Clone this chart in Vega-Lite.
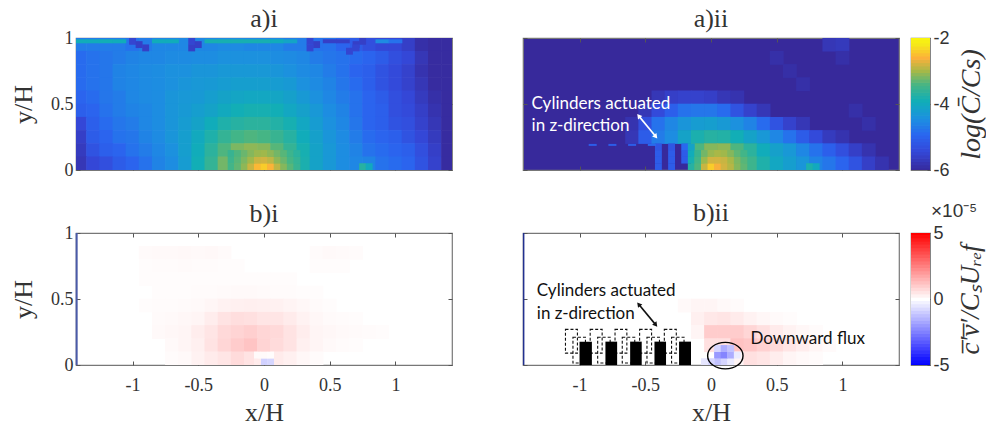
{"$schema":"https://vega.github.io/schema/vega-lite/v6.json","background":"white","padding":{"left":9,"top":4,"right":0,"bottom":0},"autosize":{"type":"pad"},"config":{"view":{"stroke":"#777","strokeWidth":1.2},"font":"Liberation Serif","axis":{"grid":false,"domain":false,"tickColor":"#555","tickSize":-4,"labelFont":"Liberation Serif","labelFontSize":18,"labelColor":"#333","labelPadding":7,"titleFont":"Liberation Serif","titleFontSize":26,"titleFontWeight":"normal","titleColor":"#333","zindex":1},"title":{"font":"Liberation Serif","fontSize":26,"fontWeight":"normal","color":"#333","offset":6}},
"datasets":{
"ai":[
{"x":-1.4,"y":0.95,"v":-4.68},{"x":-1.3,"y":0.95,"v":-4.68},{"x":-1.2,"y":0.95,"v":-4.68},{"x":-1.1,"y":0.95,"v":-4.68},{"x":-1,"y":0.95,"v":-4.8},{"x":-0.9,"y":0.95,"v":-4.68},{"x":-0.8,"y":0.95,"v":-4.55},{"x":-0.7,"y":0.95,"v":-4.55},{"x":-0.6,"y":0.95,"v":-4.55},{"x":-0.5,"y":0.95,"v":-4.55},{"x":-0.4,"y":0.95,"v":-4.55},{"x":-0.3,"y":0.95,"v":-4.5},{"x":-0.2,"y":0.95,"v":-4.5},{"x":-0.1,"y":0.95,"v":-4.55},{"x":0,"y":0.95,"v":-4.55},{"x":0.1,"y":0.95,"v":-4.55},{"x":0.2,"y":0.95,"v":-4.68},{"x":0.3,"y":0.95,"v":-4.68},{"x":0.4,"y":0.95,"v":-4.8},{"x":0.5,"y":0.95,"v":-4.8},{"x":0.6,"y":0.95,"v":-4.98},{"x":0.7,"y":0.95,"v":-5.1},{"x":0.8,"y":0.95,"v":-5.32},{"x":0.9,"y":0.95,"v":-5.45},{"x":1,"y":0.95,"v":-5.45},{"x":1.1,"y":0.95,"v":-5.6},{"x":1.2,"y":0.95,"v":-5.88},{"x":1.3,"y":0.95,"v":-5.95},{"x":1.4,"y":0.95,"v":-5.95},
{"x":-1.4,"y":0.85,"v":-4.88},{"x":-1.3,"y":0.85,"v":-4.8},{"x":-1.2,"y":0.85,"v":-4.75},{"x":-1.1,"y":0.85,"v":-4.68},{"x":-1,"y":0.85,"v":-4.6},{"x":-0.9,"y":0.85,"v":-4.55},{"x":-0.8,"y":0.85,"v":-4.55},{"x":-0.7,"y":0.85,"v":-4.5},{"x":-0.6,"y":0.85,"v":-4.5},{"x":-0.5,"y":0.85,"v":-4.47},{"x":-0.4,"y":0.85,"v":-4.47},{"x":-0.3,"y":0.85,"v":-4.42},{"x":-0.2,"y":0.85,"v":-4.42},{"x":-0.1,"y":0.85,"v":-4.42},{"x":0,"y":0.85,"v":-4.42},{"x":0.1,"y":0.85,"v":-4.47},{"x":0.2,"y":0.85,"v":-4.5},{"x":0.3,"y":0.85,"v":-4.55},{"x":0.4,"y":0.85,"v":-4.68},{"x":0.5,"y":0.85,"v":-4.75},{"x":0.6,"y":0.85,"v":-4.8},{"x":0.7,"y":0.85,"v":-4.88},{"x":0.8,"y":0.85,"v":-4.98},{"x":0.9,"y":0.85,"v":-5.1},{"x":1,"y":0.85,"v":-5.32},{"x":1.1,"y":0.85,"v":-5.45},{"x":1.2,"y":0.85,"v":-5.75},{"x":1.3,"y":0.85,"v":-5.95},{"x":1.4,"y":0.85,"v":-5.95},
{"x":-1.4,"y":0.75,"v":-4.88},{"x":-1.3,"y":0.75,"v":-4.8},{"x":-1.2,"y":0.75,"v":-4.75},{"x":-1.1,"y":0.75,"v":-4.6},{"x":-1,"y":0.75,"v":-4.55},{"x":-0.9,"y":0.75,"v":-4.5},{"x":-0.8,"y":0.75,"v":-4.47},{"x":-0.7,"y":0.75,"v":-4.42},{"x":-0.6,"y":0.75,"v":-4.42},{"x":-0.5,"y":0.75,"v":-4.35},{"x":-0.4,"y":0.75,"v":-4.35},{"x":-0.3,"y":0.75,"v":-4.31},{"x":-0.2,"y":0.75,"v":-4.31},{"x":-0.1,"y":0.75,"v":-4.31},{"x":0,"y":0.75,"v":-4.31},{"x":0.1,"y":0.75,"v":-4.35},{"x":0.2,"y":0.75,"v":-4.42},{"x":0.3,"y":0.75,"v":-4.5},{"x":0.4,"y":0.75,"v":-4.55},{"x":0.5,"y":0.75,"v":-4.68},{"x":0.6,"y":0.75,"v":-4.8},{"x":0.7,"y":0.75,"v":-4.98},{"x":0.8,"y":0.75,"v":-5.05},{"x":0.9,"y":0.75,"v":-5.25},{"x":1,"y":0.75,"v":-5.4},{"x":1.1,"y":0.75,"v":-5.55},{"x":1.2,"y":0.75,"v":-5.82},{"x":1.3,"y":0.75,"v":-5.95},{"x":1.4,"y":0.75,"v":-5.95},
{"x":-1.4,"y":0.65,"v":-4.88},{"x":-1.3,"y":0.65,"v":-4.8},{"x":-1.2,"y":0.65,"v":-4.75},{"x":-1.1,"y":0.65,"v":-4.6},{"x":-1,"y":0.65,"v":-4.55},{"x":-0.9,"y":0.65,"v":-4.5},{"x":-0.8,"y":0.65,"v":-4.47},{"x":-0.7,"y":0.65,"v":-4.42},{"x":-0.6,"y":0.65,"v":-4.35},{"x":-0.5,"y":0.65,"v":-4.31},{"x":-0.4,"y":0.65,"v":-4.28},{"x":-0.3,"y":0.65,"v":-4.24},{"x":-0.2,"y":0.65,"v":-4.2},{"x":-0.1,"y":0.65,"v":-4.2},{"x":0,"y":0.65,"v":-4.2},{"x":0.1,"y":0.65,"v":-4.24},{"x":0.2,"y":0.65,"v":-4.28},{"x":0.3,"y":0.65,"v":-4.42},{"x":0.4,"y":0.65,"v":-4.5},{"x":0.5,"y":0.65,"v":-4.6},{"x":0.6,"y":0.65,"v":-4.75},{"x":0.7,"y":0.65,"v":-4.88},{"x":0.8,"y":0.65,"v":-5.05},{"x":0.9,"y":0.65,"v":-5.25},{"x":1,"y":0.65,"v":-5.4},{"x":1.1,"y":0.65,"v":-5.55},{"x":1.2,"y":0.65,"v":-5.75},{"x":1.3,"y":0.65,"v":-5.95},{"x":1.4,"y":0.65,"v":-5.95},
{"x":-1.4,"y":0.55,"v":-4.98},{"x":-1.3,"y":0.55,"v":-4.88},{"x":-1.2,"y":0.55,"v":-4.75},{"x":-1.1,"y":0.55,"v":-4.68},{"x":-1,"y":0.55,"v":-4.55},{"x":-0.9,"y":0.55,"v":-4.5},{"x":-0.8,"y":0.55,"v":-4.47},{"x":-0.7,"y":0.55,"v":-4.35},{"x":-0.6,"y":0.55,"v":-4.31},{"x":-0.5,"y":0.55,"v":-4.28},{"x":-0.4,"y":0.55,"v":-4.2},{"x":-0.3,"y":0.55,"v":-4.12},{"x":-0.2,"y":0.55,"v":-4.08},{"x":-0.1,"y":0.55,"v":-4.05},{"x":0,"y":0.55,"v":-4.05},{"x":0.1,"y":0.55,"v":-4.08},{"x":0.2,"y":0.55,"v":-4.16},{"x":0.3,"y":0.55,"v":-4.28},{"x":0.4,"y":0.55,"v":-4.42},{"x":0.5,"y":0.55,"v":-4.55},{"x":0.6,"y":0.55,"v":-4.68},{"x":0.7,"y":0.55,"v":-4.8},{"x":0.8,"y":0.55,"v":-4.98},{"x":0.9,"y":0.55,"v":-5.1},{"x":1,"y":0.55,"v":-5.32},{"x":1.1,"y":0.55,"v":-5.45},{"x":1.2,"y":0.55,"v":-5.68},{"x":1.3,"y":0.55,"v":-5.88},{"x":1.4,"y":0.55,"v":-5.95},
{"x":-1.4,"y":0.45,"v":-5.05},{"x":-1.3,"y":0.45,"v":-4.98},{"x":-1.2,"y":0.45,"v":-4.8},{"x":-1.1,"y":0.45,"v":-4.68},{"x":-1,"y":0.45,"v":-4.6},{"x":-0.9,"y":0.45,"v":-4.55},{"x":-0.8,"y":0.45,"v":-4.47},{"x":-0.7,"y":0.45,"v":-4.35},{"x":-0.6,"y":0.45,"v":-4.28},{"x":-0.5,"y":0.45,"v":-4.2},{"x":-0.4,"y":0.45,"v":-4.12},{"x":-0.3,"y":0.45,"v":-4},{"x":-0.2,"y":0.45,"v":-3.9},{"x":-0.1,"y":0.45,"v":-3.85},{"x":0,"y":0.45,"v":-3.85},{"x":0.1,"y":0.45,"v":-3.9},{"x":0.2,"y":0.45,"v":-4.05},{"x":0.3,"y":0.45,"v":-4.16},{"x":0.4,"y":0.45,"v":-4.31},{"x":0.5,"y":0.45,"v":-4.47},{"x":0.6,"y":0.45,"v":-4.6},{"x":0.7,"y":0.45,"v":-4.8},{"x":0.8,"y":0.45,"v":-4.98},{"x":0.9,"y":0.45,"v":-5.05},{"x":1,"y":0.45,"v":-5.32},{"x":1.1,"y":0.45,"v":-5.4},{"x":1.2,"y":0.45,"v":-5.6},{"x":1.3,"y":0.45,"v":-5.82},{"x":1.4,"y":0.45,"v":-5.95},
{"x":-1.4,"y":0.35,"v":-5.45},{"x":-1.3,"y":0.35,"v":-5.05},{"x":-1.2,"y":0.35,"v":-4.88},{"x":-1.1,"y":0.35,"v":-4.75},{"x":-1,"y":0.35,"v":-4.68},{"x":-0.9,"y":0.35,"v":-4.55},{"x":-0.8,"y":0.35,"v":-4.47},{"x":-0.7,"y":0.35,"v":-4.35},{"x":-0.6,"y":0.35,"v":-4.24},{"x":-0.5,"y":0.35,"v":-4.12},{"x":-0.4,"y":0.35,"v":-3.95},{"x":-0.3,"y":0.35,"v":-3.78},{"x":-0.2,"y":0.35,"v":-3.7},{"x":-0.1,"y":0.35,"v":-3.66},{"x":0,"y":0.35,"v":-3.66},{"x":0.1,"y":0.35,"v":-3.74},{"x":0.2,"y":0.35,"v":-3.85},{"x":0.3,"y":0.35,"v":-4.05},{"x":0.4,"y":0.35,"v":-4.24},{"x":0.5,"y":0.35,"v":-4.42},{"x":0.6,"y":0.35,"v":-4.55},{"x":0.7,"y":0.35,"v":-4.75},{"x":0.8,"y":0.35,"v":-4.98},{"x":0.9,"y":0.35,"v":-5.05},{"x":1,"y":0.35,"v":-5.25},{"x":1.1,"y":0.35,"v":-5.32},{"x":1.2,"y":0.35,"v":-5.55},{"x":1.3,"y":0.35,"v":-5.75},{"x":1.4,"y":0.35,"v":-5.95},
{"x":-1.4,"y":0.25,"v":-5.6},{"x":-1.3,"y":0.25,"v":-5.1},{"x":-1.2,"y":0.25,"v":-4.98},{"x":-1.1,"y":0.25,"v":-4.8},{"x":-1,"y":0.25,"v":-4.75},{"x":-0.9,"y":0.25,"v":-4.6},{"x":-0.8,"y":0.25,"v":-4.5},{"x":-0.7,"y":0.25,"v":-4.35},{"x":-0.6,"y":0.25,"v":-4.2},{"x":-0.5,"y":0.25,"v":-4},{"x":-0.4,"y":0.25,"v":-3.78},{"x":-0.3,"y":0.25,"v":-3.58},{"x":-0.2,"y":0.25,"v":-3.45},{"x":-0.1,"y":0.25,"v":-3.38},{"x":0,"y":0.25,"v":-3.42},{"x":0.1,"y":0.25,"v":-3.54},{"x":0.2,"y":0.25,"v":-3.7},{"x":0.3,"y":0.25,"v":-3.95},{"x":0.4,"y":0.25,"v":-4.16},{"x":0.5,"y":0.25,"v":-4.35},{"x":0.6,"y":0.25,"v":-4.5},{"x":0.7,"y":0.25,"v":-4.68},{"x":0.8,"y":0.25,"v":-4.88},{"x":0.9,"y":0.25,"v":-4.98},{"x":1,"y":0.25,"v":-5.05},{"x":1.1,"y":0.25,"v":-5.25},{"x":1.2,"y":0.25,"v":-5.45},{"x":1.3,"y":0.25,"v":-5.68},{"x":1.4,"y":0.25,"v":-5.95},
{"x":-1.4,"y":0.15,"v":-5.68},{"x":-1.3,"y":0.15,"v":-5.25},{"x":-1.2,"y":0.15,"v":-5.05},{"x":-1.1,"y":0.15,"v":-4.98},{"x":-1,"y":0.15,"v":-4.8},{"x":-0.9,"y":0.15,"v":-4.68},{"x":-0.8,"y":0.15,"v":-4.55},{"x":-0.7,"y":0.15,"v":-4.42},{"x":-0.6,"y":0.15,"v":-4.2},{"x":-0.5,"y":0.15,"v":-3.95},{"x":-0.4,"y":0.15,"v":-3.66},{"x":-0.3,"y":0.15,"v":-3.38},{"x":-0.2,"y":0.15,"v":-3.18},{"x":-0.1,"y":0.15,"v":-3.1},{"x":0,"y":0.15,"v":-3.14},{"x":0.1,"y":0.15,"v":-3.34},{"x":0.2,"y":0.15,"v":-3.58},{"x":0.3,"y":0.15,"v":-3.85},{"x":0.4,"y":0.15,"v":-4.12},{"x":0.5,"y":0.15,"v":-4.31},{"x":0.6,"y":0.15,"v":-4.47},{"x":0.7,"y":0.15,"v":-4.6},{"x":0.8,"y":0.15,"v":-4.8},{"x":0.9,"y":0.15,"v":-4.88},{"x":1,"y":0.15,"v":-4.98},{"x":1.1,"y":0.15,"v":-5.05},{"x":1.2,"y":0.15,"v":-5.32},{"x":1.3,"y":0.15,"v":-5.6},{"x":1.4,"y":0.15,"v":-5.95},
{"x":-1.4,"y":0.05,"v":-5.75},{"x":-1.3,"y":0.05,"v":-5.45},{"x":-1.2,"y":0.05,"v":-5.32},{"x":-1.1,"y":0.05,"v":-5.1},{"x":-1,"y":0.05,"v":-4.98},{"x":-0.9,"y":0.05,"v":-4.8},{"x":-0.8,"y":0.05,"v":-4.6},{"x":-0.7,"y":0.05,"v":-4.47},{"x":-0.6,"y":0.05,"v":-4.24},{"x":-0.5,"y":0.05,"v":-3.9},{"x":-0.4,"y":0.05,"v":-3.58},{"x":-0.3,"y":0.05,"v":-3.22},{"x":-0.2,"y":0.05,"v":-3.05},{"x":-0.1,"y":0.05,"v":-2.88},{"x":0,"y":0.05,"v":-2.8},{"x":0.1,"y":0.05,"v":-3.05},{"x":0.2,"y":0.05,"v":-3.45},{"x":0.3,"y":0.05,"v":-3.82},{"x":0.4,"y":0.05,"v":-4.12},{"x":0.5,"y":0.05,"v":-4.31},{"x":0.6,"y":0.05,"v":-4.47},{"x":0.7,"y":0.05,"v":-4.55},{"x":0.8,"y":0.05,"v":-4.6},{"x":0.9,"y":0.05,"v":-4.8},{"x":1,"y":0.05,"v":-4.88},{"x":1.1,"y":0.05,"v":-4.98},{"x":1.2,"y":0.05,"v":-5.25},{"x":1.3,"y":0.05,"v":-5.55},{"x":1.4,"y":0.05,"v":-5.95}],
"aif":[
{"x":-0.25,"y":0.025,"v":-3.45},{"x":-0.2,"y":0.025,"v":-3.3},{"x":-0.15,"y":0.025,"v":-3.1},{"x":-0.1,"y":0.025,"v":-2.84},{"x":-0.05,"y":0.025,"v":-2.54},{"x":0,"y":0.025,"v":-2.4},{"x":0.05,"y":0.025,"v":-2.58},{"x":0.1,"y":0.025,"v":-2.88},{"x":0.15,"y":0.025,"v":-3.14},{"x":0.2,"y":0.025,"v":-3.34},{"x":0.25,"y":0.025,"v":-3.54},
{"x":-0.25,"y":0.075,"v":-3.5},{"x":-0.2,"y":0.075,"v":-3.34},{"x":-0.15,"y":0.075,"v":-3.18},{"x":-0.1,"y":0.075,"v":-3.02},{"x":-0.05,"y":0.075,"v":-2.84},{"x":0,"y":0.075,"v":-2.8},{"x":0.05,"y":0.075,"v":-2.88},{"x":0.1,"y":0.075,"v":-3.1},{"x":0.15,"y":0.075,"v":-3.26},{"x":0.2,"y":0.075,"v":-3.42},{"x":0.25,"y":0.075,"v":-3.58},
{"x":-0.25,"y":0.125,"v":-3.54},{"x":-0.2,"y":0.125,"v":-3.38},{"x":-0.15,"y":0.125,"v":-3.26},{"x":-0.1,"y":0.125,"v":-3.14},{"x":-0.05,"y":0.125,"v":-3.05},{"x":0,"y":0.125,"v":-3.02},{"x":0.05,"y":0.125,"v":-3.1},{"x":0.1,"y":0.125,"v":-3.22},{"x":0.15,"y":0.125,"v":-3.34},{"x":0.2,"y":0.125,"v":-3.5},{"x":0.25,"y":0.125,"v":-3.66},
{"x":0.75,"y":0.025,"v":-3.7},{"x":0.8,"y":0.025,"v":-4},
{"x":-1,"y":0.975,"v":-5.5},{"x":-0.95,"y":0.95,"v":-5.6},{"x":-0.9,"y":0.925,"v":-5.6},{"x":-0.55,"y":0.975,"v":-5.5},{"x":-0.55,"y":0.925,"v":-5.6},{"x":-0.5,"y":0.95,"v":-5.6},{"x":0.35,"y":0.975,"v":-5.5},{"x":0.4,"y":0.95,"v":-5.6},{"x":0.35,"y":0.925,"v":-5.5},{"x":0.75,"y":0.975,"v":-5.6},{"x":0.7,"y":0.95,"v":-5.6},{"x":0.7,"y":0.925,"v":-5.5},{"x":0.65,"y":0.9,"v":-5.5}],
"aib":[{"x":-1.4,"y":0.975,"v":-3.95},{"x":-1.3,"y":0.975,"v":-3.95},{"x":-1.2,"y":0.975,"v":-3.9},{"x":-1.1,"y":0.975,"v":-3.95},{"x":-0.8,"y":0.975,"v":-3.95},{"x":-0.7,"y":0.975,"v":-3.95},{"x":-0.4,"y":0.975,"v":-3.85},{"x":-0.3,"y":0.975,"v":-3.85},{"x":-0.2,"y":0.975,"v":-3.85},{"x":-0.1,"y":0.975,"v":-3.85},{"x":0,"y":0.975,"v":-3.85},{"x":0.1,"y":0.975,"v":-3.95},{"x":0.2,"y":0.975,"v":-4.1},{"x":0.5,"y":0.975,"v":-5.6},{"x":0.6,"y":0.975,"v":-5.6},{"x":0.9,"y":0.975,"v":-4.5},{"x":1,"y":0.975,"v":-4.8}],
"aii":[
{"x":-0.4,"y":0.55,"v":-5.75},{"x":-0.3,"y":0.55,"v":-5.6},{"x":-0.2,"y":0.55,"v":-5.55},{"x":-0.1,"y":0.55,"v":-5.55},{"x":0,"y":0.55,"v":-5.6},{"x":0.1,"y":0.55,"v":-5.75},{"x":0.2,"y":0.55,"v":-5.82},
{"x":-0.5,"y":0.45,"v":-5.75},{"x":-0.4,"y":0.45,"v":-5.4},{"x":-0.3,"y":0.45,"v":-5.05},{"x":-0.2,"y":0.45,"v":-4.8},{"x":-0.1,"y":0.45,"v":-4.75},{"x":0,"y":0.45,"v":-4.75},{"x":0.1,"y":0.45,"v":-4.88},{"x":0.2,"y":0.45,"v":-5.25},{"x":0.3,"y":0.45,"v":-5.55},{"x":0.4,"y":0.45,"v":-5.75},
{"x":-0.6,"y":0.35,"v":-5.82},{"x":-0.5,"y":0.35,"v":-5.32},{"x":-0.4,"y":0.35,"v":-4.8},{"x":-0.3,"y":0.35,"v":-4.55},{"x":-0.2,"y":0.35,"v":-4.35},{"x":-0.1,"y":0.35,"v":-4.24},{"x":0,"y":0.35,"v":-4.2},{"x":0.1,"y":0.35,"v":-4.28},{"x":0.2,"y":0.35,"v":-4.42},{"x":0.3,"y":0.35,"v":-4.6},{"x":0.4,"y":0.35,"v":-4.88},{"x":0.5,"y":0.35,"v":-5.25},{"x":0.6,"y":0.35,"v":-5.55},{"x":0.7,"y":0.35,"v":-5.75},
{"x":-0.6,"y":0.25,"v":-5.75},{"x":-0.5,"y":0.25,"v":-5.1},{"x":-0.4,"y":0.25,"v":-4.68},{"x":-0.3,"y":0.25,"v":-4.47},{"x":-0.2,"y":0.25,"v":-4.12},{"x":-0.1,"y":0.25,"v":-3.82},{"x":0,"y":0.25,"v":-3.7},{"x":0.1,"y":0.25,"v":-3.74},{"x":0.2,"y":0.25,"v":-3.9},{"x":0.3,"y":0.25,"v":-4.12},{"x":0.4,"y":0.25,"v":-4.31},{"x":0.5,"y":0.25,"v":-4.55},{"x":0.6,"y":0.25,"v":-4.8},{"x":0.7,"y":0.25,"v":-5.1},{"x":0.8,"y":0.25,"v":-5.4},{"x":0.9,"y":0.25,"v":-5.68},{"x":1,"y":0.25,"v":-5.82},
{"x":-0.1,"y":0.15,"v":-3.38},{"x":0,"y":0.15,"v":-3.14},{"x":0.1,"y":0.15,"v":-3.1},{"x":0.2,"y":0.15,"v":-3.38},{"x":0.3,"y":0.15,"v":-3.66},{"x":0.4,"y":0.15,"v":-3.95},{"x":0.5,"y":0.15,"v":-4.16},{"x":0.6,"y":0.15,"v":-4.31},{"x":0.7,"y":0.15,"v":-4.55},{"x":0.8,"y":0.15,"v":-4.8},{"x":0.9,"y":0.15,"v":-5.05},{"x":1,"y":0.15,"v":-5.32},{"x":1.1,"y":0.15,"v":-5.6},{"x":1.2,"y":0.15,"v":-5.82},
{"x":-0.1,"y":0.05,"v":-3.3},{"x":0,"y":0.05,"v":-2.8},{"x":0.1,"y":0.05,"v":-2.8},{"x":0.2,"y":0.05,"v":-3.14},{"x":0.3,"y":0.05,"v":-3.5},{"x":0.4,"y":0.05,"v":-3.78},{"x":0.5,"y":0.05,"v":-4.05},{"x":0.6,"y":0.05,"v":-4.2},{"x":0.7,"y":0.05,"v":-4.35},{"x":0.8,"y":0.05,"v":-4.6},{"x":0.9,"y":0.05,"v":-4.75},{"x":1,"y":0.05,"v":-4.98},{"x":1.1,"y":0.05,"v":-5.25},{"x":1.2,"y":0.05,"v":-5.6},{"x":1.3,"y":0.05,"v":-5.82},
{"x":0.9,"y":0.95,"v":-5.75},{"x":1,"y":0.95,"v":-5.7},{"x":1,"y":0.85,"v":-5.88},{"x":0.5,"y":0.85,"v":-5.88},{"x":0.6,"y":0.75,"v":-5.9},{"x":0.7,"y":0.65,"v":-5.88},{"x":1.1,"y":0.45,"v":-5.88},{"x":1.2,"y":0.35,"v":-5.88}],
"aiif":[
{"x":-0.4,"y":0.025,"v":-5.1},{"x":-0.4,"y":0.075,"v":-5.1},{"x":-0.4,"y":0.125,"v":-5.1},{"x":-0.4,"y":0.175,"v":-5.2},{"x":-0.3,"y":0.025,"v":-5.1},{"x":-0.3,"y":0.075,"v":-5.1},{"x":-0.3,"y":0.125,"v":-5.1},{"x":-0.3,"y":0.175,"v":-5.2},{"x":-0.2,"y":0.075,"v":-5.1},{"x":-0.2,"y":0.125,"v":-5.1},{"x":-0.2,"y":0.175,"v":-4.9},
{"x":-0.15,"y":0.025,"v":-3.7},{"x":-0.1,"y":0.025,"v":-3.38},{"x":-0.05,"y":0.025,"v":-2.84},{"x":0,"y":0.025,"v":-2.4},{"x":0.05,"y":0.025,"v":-2.62},{"x":0.1,"y":0.025,"v":-2.8},{"x":0.15,"y":0.025,"v":-2.92},{"x":0.2,"y":0.025,"v":-3.14},{"x":0.25,"y":0.025,"v":-3.3},
{"x":-0.15,"y":0.075,"v":-3.85},{"x":-0.1,"y":0.075,"v":-3.45},{"x":-0.05,"y":0.075,"v":-3.05},{"x":0,"y":0.075,"v":-2.8},{"x":0.05,"y":0.075,"v":-2.8},{"x":0.1,"y":0.075,"v":-2.84},{"x":0.15,"y":0.075,"v":-2.98},{"x":0.2,"y":0.075,"v":-3.18},{"x":0.25,"y":0.075,"v":-3.34},
{"x":-0.15,"y":0.125,"v":-3.95},{"x":-0.1,"y":0.125,"v":-3.54},{"x":-0.05,"y":0.125,"v":-3.22},{"x":0,"y":0.125,"v":-3.05},{"x":0.05,"y":0.125,"v":-2.98},{"x":0.1,"y":0.125,"v":-3.02},{"x":0.15,"y":0.125,"v":-3.14},{"x":0.2,"y":0.125,"v":-3.3},{"x":0.25,"y":0.125,"v":-3.45},
{"x":-0.15,"y":0.175,"v":-4.12},{"x":0.75,"y":0.025,"v":-3.8},{"x":0.8,"y":0.025,"v":-4}],
"aiib":[{"x":-0.9,"y":0.19,"v":-5.1},{"x":-0.75,"y":0.19,"v":-5.1},{"x":-0.6,"y":0.19,"v":-5.1},{"x":-0.45,"y":0.19,"v":-4.9}],
"bi":[
{"x":-0.9,"y":0.85,"v":0.1},{"x":-0.8,"y":0.85,"v":0.12},{"x":-0.7,"y":0.85,"v":0.12},{"x":-0.6,"y":0.85,"v":0.14},{"x":-0.5,"y":0.85,"v":0.12},{"x":-0.4,"y":0.85,"v":0.14},{"x":-0.3,"y":0.85,"v":0.1},{"x":0.4,"y":0.85,"v":0.08},{"x":0.5,"y":0.85,"v":0.12},{"x":0.6,"y":0.85,"v":0.1},{"x":0.7,"y":0.85,"v":0.08},
{"x":-0.9,"y":0.75,"v":0.06},{"x":-0.8,"y":0.75,"v":0.08},{"x":-0.7,"y":0.75,"v":0.08},{"x":-0.6,"y":0.75,"v":0.1},{"x":-0.5,"y":0.75,"v":0.08},{"x":-0.4,"y":0.75,"v":0.08},{"x":-0.3,"y":0.75,"v":0.06},{"x":-0.2,"y":0.75,"v":0.05},{"x":0.4,"y":0.75,"v":0.05},{"x":0.5,"y":0.75,"v":0.06},{"x":0.6,"y":0.75,"v":0.05},
{"x":-0.9,"y":0.65,"v":0.05},{"x":-0.8,"y":0.65,"v":0.05},{"x":-0.7,"y":0.65,"v":0.06},{"x":-0.6,"y":0.65,"v":0.05},{"x":-0.5,"y":0.65,"v":0.05},{"x":-0.4,"y":0.65,"v":0.05},{"x":-0.3,"y":0.65,"v":0.05},{"x":-0.2,"y":0.65,"v":0.06},{"x":-0.1,"y":0.65,"v":0.05},{"x":0,"y":0.65,"v":0.06},{"x":0.1,"y":0.65,"v":0.05},{"x":0.2,"y":0.65,"v":0.05},
{"x":-0.8,"y":0.55,"v":0.06},{"x":-0.7,"y":0.55,"v":0.06},{"x":-0.6,"y":0.55,"v":0.06},{"x":-0.5,"y":0.55,"v":0.08},{"x":-0.4,"y":0.55,"v":0.08},{"x":-0.3,"y":0.55,"v":0.1},{"x":-0.2,"y":0.55,"v":0.12},{"x":-0.1,"y":0.55,"v":0.12},{"x":0,"y":0.55,"v":0.1},{"x":0.1,"y":0.55,"v":0.08},{"x":0.2,"y":0.55,"v":0.08},{"x":0.3,"y":0.55,"v":0.06},{"x":0.4,"y":0.55,"v":0.05},
{"x":-0.9,"y":0.45,"v":0.05},{"x":-0.8,"y":0.45,"v":0.08},{"x":-0.7,"y":0.45,"v":0.08},{"x":-0.6,"y":0.45,"v":0.1},{"x":-0.5,"y":0.45,"v":0.12},{"x":-0.4,"y":0.45,"v":0.18},{"x":-0.3,"y":0.45,"v":0.25},{"x":-0.2,"y":0.45,"v":0.3},{"x":-0.1,"y":0.45,"v":0.32},{"x":0,"y":0.45,"v":0.3},{"x":0.1,"y":0.45,"v":0.28},{"x":0.2,"y":0.45,"v":0.22},{"x":0.3,"y":0.45,"v":0.15},{"x":0.4,"y":0.45,"v":0.1},{"x":0.5,"y":0.45,"v":0.06},
{"x":-0.8,"y":0.35,"v":0.1},{"x":-0.7,"y":0.35,"v":0.12},{"x":-0.6,"y":0.35,"v":0.15},{"x":-0.5,"y":0.35,"v":0.2},{"x":-0.4,"y":0.35,"v":0.35},{"x":-0.3,"y":0.35,"v":0.55},{"x":-0.2,"y":0.35,"v":0.65},{"x":-0.1,"y":0.35,"v":0.6},{"x":0,"y":0.35,"v":0.5},{"x":0.1,"y":0.35,"v":0.5},{"x":0.2,"y":0.35,"v":0.4},{"x":0.3,"y":0.35,"v":0.25},{"x":0.4,"y":0.35,"v":0.15},{"x":0.5,"y":0.35,"v":0.1},{"x":0.6,"y":0.35,"v":0.08},{"x":0.7,"y":0.35,"v":0.05},
{"x":-0.8,"y":0.25,"v":0.12},{"x":-0.7,"y":0.25,"v":0.15},{"x":-0.6,"y":0.25,"v":0.2},{"x":-0.5,"y":0.25,"v":0.35},{"x":-0.4,"y":0.25,"v":0.5},{"x":-0.3,"y":0.25,"v":0.75},{"x":-0.2,"y":0.25,"v":0.85},{"x":-0.1,"y":0.25,"v":0.95},{"x":0,"y":0.25,"v":0.8},{"x":0.1,"y":0.25,"v":0.75},{"x":0.2,"y":0.25,"v":0.55},{"x":0.3,"y":0.25,"v":0.35},{"x":0.4,"y":0.25,"v":0.2},{"x":0.5,"y":0.25,"v":0.15},{"x":0.6,"y":0.25,"v":0.12},{"x":0.7,"y":0.25,"v":0.1},{"x":0.8,"y":0.25,"v":0.08},{"x":0.9,"y":0.25,"v":0.05},
{"x":-0.7,"y":0.15,"v":0.12},{"x":-0.6,"y":0.15,"v":0.2},{"x":-0.5,"y":0.15,"v":0.3},{"x":-0.4,"y":0.15,"v":0.55},{"x":-0.3,"y":0.15,"v":0.8},{"x":-0.2,"y":0.15,"v":1},{"x":-0.1,"y":0.15,"v":1.15},{"x":0,"y":0.15,"v":0.85},{"x":0.1,"y":0.15,"v":0.7},{"x":0.2,"y":0.15,"v":0.55},{"x":0.3,"y":0.15,"v":0.3},{"x":0.4,"y":0.15,"v":0.2},{"x":0.5,"y":0.15,"v":0.12},{"x":0.6,"y":0.15,"v":0.08},{"x":0.7,"y":0.15,"v":0.06},
{"x":-0.7,"y":0.05,"v":0.08},{"x":-0.6,"y":0.05,"v":0.12},{"x":-0.5,"y":0.05,"v":0.25},{"x":-0.4,"y":0.05,"v":0.4},{"x":-0.3,"y":0.05,"v":0.5},{"x":-0.2,"y":0.05,"v":0.7},{"x":-0.1,"y":0.05,"v":0.55},{"x":0.1,"y":0.05,"v":0.4},{"x":0.2,"y":0.05,"v":0.3},{"x":0.3,"y":0.05,"v":0.15},{"x":0.4,"y":0.05,"v":0.08}],
"bif":[{"x":0,"y":0.025,"v":-0.9},{"x":0.05,"y":0.025,"v":-0.8},{"x":-0.05,"y":0.025,"v":0.4},{"x":-0.05,"y":0.075,"v":0.1},{"x":0,"y":0.075,"v":0.1},{"x":0.05,"y":0.075,"v":0.05}],
"bii":[
{"x":-0.2,"y":0.45,"v":0.12},{"x":-0.1,"y":0.45,"v":0.2},{"x":0,"y":0.45,"v":0.2},{"x":0.1,"y":0.45,"v":0.12},{"x":0.2,"y":0.45,"v":0.08},
{"x":-0.1,"y":0.35,"v":0.3},{"x":0,"y":0.35,"v":0.45},{"x":0.1,"y":0.35,"v":0.5},{"x":0.2,"y":0.35,"v":0.4},{"x":0.3,"y":0.35,"v":0.25},{"x":0.4,"y":0.35,"v":0.15},{"x":0.5,"y":0.35,"v":0.1},{"x":0.6,"y":0.35,"v":0.05},
{"x":-0.1,"y":0.25,"v":0.2},{"x":0,"y":0.25,"v":1},{"x":0.1,"y":0.25,"v":1},{"x":0.2,"y":0.25,"v":1},{"x":0.3,"y":0.25,"v":0.8},{"x":0.4,"y":0.25,"v":0.6},{"x":0.5,"y":0.25,"v":0.4},{"x":0.6,"y":0.25,"v":0.25},{"x":0.7,"y":0.25,"v":0.15},{"x":0.8,"y":0.25,"v":0.08},
{"x":0,"y":0.15,"v":0.6},{"x":0.1,"y":0.15,"v":0.6},{"x":0.2,"y":0.15,"v":1.2},{"x":0.3,"y":0.15,"v":1.1},{"x":0.4,"y":0.15,"v":0.9},{"x":0.5,"y":0.15,"v":0.7},{"x":0.6,"y":0.15,"v":0.5},{"x":0.7,"y":0.15,"v":0.35},{"x":0.8,"y":0.15,"v":0.2},{"x":0.9,"y":0.15,"v":0.1},
{"x":0.2,"y":0.05,"v":0.2},{"x":0.3,"y":0.05,"v":0.6},{"x":0.4,"y":0.05,"v":0.5},{"x":0.5,"y":0.05,"v":0.35},{"x":0.6,"y":0.05,"v":0.2},{"x":0.7,"y":0.05,"v":0.12},{"x":0.8,"y":0.05,"v":0.08}],
"biif":[{"x":0.05,"y":0.025,"v":-1.2},{"x":0.1,"y":0.025,"v":-0.8},{"x":0.15,"y":0.025,"v":-0.4},{"x":0.05,"y":0.075,"v":-2},{"x":0.1,"y":0.075,"v":-2.4},{"x":0.15,"y":0.075,"v":-1.6},{"x":0.2,"y":0.075,"v":-0.4},{"x":0.05,"y":0.125,"v":-0.8},{"x":0.1,"y":0.125,"v":-1.6},{"x":0.15,"y":0.125,"v":-1.2},{"x":0,"y":0.025,"v":-0.8},{"x":-0.05,"y":0.025,"v":-0.5}],
"bars":[{"x":-1,"x2":-0.906,"y":0,"y2":0.177},{"x":-0.803,"x2":-0.714,"y":0,"y2":0.177},{"x":-0.615,"x2":-0.527,"y":0,"y2":0.177},{"x":-0.43,"x2":-0.342,"y":0,"y2":0.177},{"x":-0.243,"x2":-0.152,"y":0,"y2":0.177}],
"dashed":[{"x":-1.107,"x2":-1.016,"y":0.09,"y2":0.27},{"x":-0.919,"x2":-0.828,"y":0.09,"y2":0.27},{"x":-0.73,"x2":-0.64,"y":0.09,"y2":0.27},{"x":-0.543,"x2":-0.452,"y":0.09,"y2":0.27},{"x":-0.355,"x2":-0.264,"y":0.09,"y2":0.27},{"x":-1.05,"x2":-0.955,"y":0.015,"y2":0.21},{"x":-0.862,"x2":-0.767,"y":0.015,"y2":0.21},{"x":-0.675,"x2":-0.58,"y":0.015,"y2":0.21},{"x":-0.487,"x2":-0.392,"y":0.015,"y2":0.21},{"x":-0.3,"x2":-0.205,"y":0.015,"y2":0.21}],
"cba":[{"c":-6},{"c":-5.9},{"c":-5.8},{"c":-5.7},{"c":-5.6},{"c":-5.5},{"c":-5.4},{"c":-5.3},{"c":-5.2},{"c":-5.1},{"c":-5},{"c":-4.9},{"c":-4.8},{"c":-4.7},{"c":-4.6},{"c":-4.5},{"c":-4.4},{"c":-4.3},{"c":-4.2},{"c":-4.1},{"c":-4},{"c":-3.9},{"c":-3.8},{"c":-3.7},{"c":-3.6},{"c":-3.5},{"c":-3.4},{"c":-3.3},{"c":-3.2},{"c":-3.1},{"c":-3},{"c":-2.9},{"c":-2.8},{"c":-2.7},{"c":-2.6},{"c":-2.5},{"c":-2.4},{"c":-2.3},{"c":-2.2},{"c":-2.1},{"c":-2}],
"cbb":[{"c":-5},{"c":-4.75},{"c":-4.5},{"c":-4.25},{"c":-4},{"c":-3.75},{"c":-3.5},{"c":-3.25},{"c":-3},{"c":-2.75},{"c":-2.5},{"c":-2.25},{"c":-2},{"c":-1.75},{"c":-1.5},{"c":-1.25},{"c":-1},{"c":-0.75},{"c":-0.5},{"c":-0.25},{"c":0},{"c":0.25},{"c":0.5},{"c":0.75},{"c":1},{"c":1.25},{"c":1.5},{"c":1.75},{"c":2},{"c":2.25},{"c":2.5},{"c":2.75},{"c":3},{"c":3.25},{"c":3.5},{"c":3.75},{"c":4},{"c":4.25},{"c":4.5},{"c":4.75},{"c":5}]
},
"spacing":19,
"resolve":{"scale":{"color":"independent"}},
"vconcat":[
{"spacing":67,"resolve":{"scale":{"color":"independent"}},"hconcat":[
{"title":{"text":"a)i","offset":-3},"width":376,"height":132,"resolve":{"axis":{"x":"independent","y":"independent"}},
"encoding":{"x":{"field":"x","type":"quantitative","scale":{"domain":[-1.43,1.43],"nice":false,"zero":false},"axis":null},"y":{"field":"y","type":"quantitative","scale":{"domain":[0,1],"nice":false,"zero":false},"axis":null}},
"layer":[
{"data":{"name":"ai"},"mark":{"type":"rect","width":13.8,"height":13.8,"clip":true},"encoding":{"color":{"field":"v","type":"quantitative","legend":null,"scale":{"domain":[-6,-5.44,-4.94,-4.44,-3.92,-3.42,-3,-2.6,-2.2,-2],"interpolate":"rgb","range":["#37299b","#3448d8","#2a66f0","#1c90e0","#10aeb8","#45b585","#a5b848","#fcb03a","#f5e81a","#f9f50e"]}}}},
{"data":{"name":"aif"},"mark":{"type":"rect","width":6.9,"height":6.9,"clip":true},"encoding":{"color":{"field":"v","type":"quantitative","legend":null}}},
{"data":{"name":"aib"},"mark":{"type":"rect","width":13.8,"height":4,"clip":true},"encoding":{"color":{"field":"v","type":"quantitative","legend":null}}},
{"data":{"values":[{"x":0,"y":0}]},"mark":{"type":"point","opacity":0},"encoding":{"x":{"field":"x","type":"quantitative","axis":{"orient":"bottom","values":[-1,-0.5,0,0.5,1],"labels":false,"title":null}},"y":{"field":"y","type":"quantitative","axis":{"orient":"left","values":[0,0.5,1],"title":"y/H","labelExpr":"''+datum.value","titlePadding":14}}}},
{"data":{"values":[{"x":0,"y":0}]},"mark":{"type":"point","opacity":0},"encoding":{"x":{"field":"x","type":"quantitative","axis":{"orient":"top","values":[-1,-0.5,0,0.5,1],"labels":false,"title":null}},"y":{"field":"y","type":"quantitative","axis":{"orient":"right","values":[0,0.5,1],"labels":false,"title":null}}}}
]},
{"spacing":9,"resolve":{"scale":{"color":"independent"}},"hconcat":[
{"title":"a)ii","width":376,"height":132,"view":{"fill":"#37299b"},"resolve":{"axis":{"x":"independent","y":"independent"}},
"encoding":{"x":{"field":"x","type":"quantitative","scale":{"domain":[-1.43,1.43],"nice":false,"zero":false},"axis":null},"y":{"field":"y","type":"quantitative","scale":{"domain":[0,1],"nice":false,"zero":false},"axis":null}},
"layer":[
{"data":{"name":"aii"},"mark":{"type":"rect","width":13.8,"height":13.8,"clip":true},"encoding":{"color":{"field":"v","type":"quantitative","legend":null,"scale":{"domain":[-6,-5.44,-4.94,-4.44,-3.92,-3.42,-3,-2.6,-2.2,-2],"interpolate":"rgb","range":["#37299b","#3448d8","#2a66f0","#1c90e0","#10aeb8","#45b585","#a5b848","#fcb03a","#f5e81a","#f9f50e"]}}}},
{"data":{"name":"aiif"},"mark":{"type":"rect","width":6.9,"height":6.9,"clip":true},"encoding":{"color":{"field":"v","type":"quantitative","legend":null}}},
{"data":{"name":"aiib"},"mark":{"type":"rect","width":8,"height":2,"clip":true},"encoding":{"color":{"field":"v","type":"quantitative","legend":null}}},
{"data":{"values":[{"x":-1.365,"y":0.5,"t":"Cylinders actuated"},{"x":-1.365,"y":0.33,"t":"in z-direction"}]},"mark":{"type":"text","align":"left","baseline":"middle","font":"Lato","fontSize":17,"color":"white"},"encoding":{"text":{"field":"t"}}},
{"data":{"values":[{"x":-0.55,"y":0.41,"x2":-0.42,"y2":0.253}]},"mark":{"type":"rule","color":"white","strokeWidth":1.6},"encoding":{"x2":{"field":"x2"},"y2":{"field":"y2"}}},
{"data":{"values":[{"x":-0.55,"y":0.41}]},"mark":{"type":"point","shape":"triangle-up","angle":-39,"filled":true,"size":30,"color":"white","opacity":1}},
{"data":{"values":[{"x":-0.42,"y":0.253}]},"mark":{"type":"point","shape":"triangle-up","angle":141,"filled":true,"size":30,"color":"white","opacity":1}},
{"data":{"values":[{"x":0,"y":0}]},"mark":{"type":"point","opacity":0},"encoding":{"x":{"field":"x","type":"quantitative","axis":{"orient":"bottom","values":[-1,-0.5,0,0.5,1],"labels":false,"title":null}},"y":{"field":"y","type":"quantitative","axis":{"orient":"left","values":[0,0.5,1],"labels":false,"title":null}}}},
{"data":{"values":[{"x":0,"y":0}]},"mark":{"type":"point","opacity":0},"encoding":{"x":{"field":"x","type":"quantitative","axis":{"orient":"top","values":[-1,-0.5,0,0.5,1],"labels":false,"title":null}},"y":{"field":"y","type":"quantitative","axis":{"orient":"right","values":[0,0.5,1],"labels":false,"title":null}}}}
]},
{"width":19,"height":132,"data":{"name":"cba"},"mark":{"type":"rect","height":4,"clip":true},"encoding":{"y":{"field":"c","type":"quantitative","scale":{"domain":[-6,-2],"nice":false,"zero":false},"axis":{"orient":"right","values":[-6,-4,-2],"labelExpr":"''+datum.value","labelFont":"Liberation Sans","labelFontSize":18,"tickSize":-3,"labelPadding":6,"title":"log(C̄/Cs)","titleFontStyle":"italic","titleAngle":270,"titleBaseline":"top","titleFontSize":28,"titlePadding":8}},"color":{"field":"c","type":"quantitative","legend":null,"scale":{"domain":[-6,-5.44,-4.94,-4.44,-3.92,-3.42,-3,-2.6,-2.2,-2],"interpolate":"rgb","range":["#37299b","#3448d8","#2a66f0","#1c90e0","#10aeb8","#45b585","#a5b848","#fcb03a","#f5e81a","#f9f50e"]}}}}
]}]},
{"spacing":67,"resolve":{"scale":{"color":"independent"}},"hconcat":[
{"title":{"text":"b)i","offset":-3},"width":376,"height":132,"resolve":{"axis":{"x":"independent","y":"independent"}},
"encoding":{"x":{"field":"x","type":"quantitative","scale":{"domain":[-1.43,1.43],"nice":false,"zero":false},"axis":null},"y":{"field":"y","type":"quantitative","scale":{"domain":[0,1],"nice":false,"zero":false},"axis":null}},
"layer":[
{"data":{"name":"bi"},"mark":{"type":"rect","width":13.8,"height":13.8,"clip":true},"encoding":{"color":{"field":"v","type":"quantitative","legend":null,"scale":{"domain":[-5,0,5],"interpolate":"rgb","range":["#0000ff","#ffffff","#ff0000"]}}}},
{"data":{"name":"bif"},"mark":{"type":"rect","width":6.9,"height":6.9,"clip":true},"encoding":{"color":{"field":"v","type":"quantitative","legend":null}}},
{"data":{"values":[{"x":-1.425,"y":0,"y2":1}]},"mark":{"type":"rule","color":"#4a5aa8","strokeWidth":2},"encoding":{"y2":{"field":"y2"}}},
{"data":{"values":[{"x":0,"y":0}]},"mark":{"type":"point","opacity":0},"encoding":{"x":{"field":"x","type":"quantitative","axis":{"orient":"bottom","values":[-1,-0.5,0,0.5,1],"title":"x/H","labelExpr":"''+datum.value","labelPadding":15,"titlePadding":5}},"y":{"field":"y","type":"quantitative","axis":{"orient":"left","values":[0,0.5,1],"title":"y/H","labelExpr":"''+datum.value","titlePadding":14}}}},
{"data":{"values":[{"x":0,"y":0}]},"mark":{"type":"point","opacity":0},"encoding":{"x":{"field":"x","type":"quantitative","axis":{"orient":"top","values":[-1,-0.5,0,0.5,1],"labels":false,"title":null}},"y":{"field":"y","type":"quantitative","axis":{"orient":"right","values":[0,0.5,1],"labels":false,"title":null}}}}
]},
{"spacing":9,"resolve":{"scale":{"color":"independent"}},"hconcat":[
{"title":"b)ii","width":376,"height":132,"resolve":{"axis":{"x":"independent","y":"independent"}},
"encoding":{"x":{"field":"x","type":"quantitative","scale":{"domain":[-1.43,1.43],"nice":false,"zero":false},"axis":null},"y":{"field":"y","type":"quantitative","scale":{"domain":[0,1],"nice":false,"zero":false},"axis":null}},
"layer":[
{"data":{"name":"bii"},"mark":{"type":"rect","width":13.8,"height":13.8,"clip":true},"encoding":{"color":{"field":"v","type":"quantitative","legend":null,"scale":{"domain":[-5,0,5],"interpolate":"rgb","range":["#0000ff","#ffffff","#ff0000"]}}}},
{"data":{"name":"biif"},"mark":{"type":"rect","width":6.9,"height":6.9,"clip":true},"encoding":{"color":{"field":"v","type":"quantitative","legend":null}}},
{"data":{"values":[{"x":-1.425,"y":0,"y2":1}]},"mark":{"type":"rule","color":"#22308f","strokeWidth":1.5},"encoding":{"y2":{"field":"y2"}}},
{"data":{"name":"dashed"},"mark":{"type":"rect","fill":null,"stroke":"#111","strokeWidth":1.1,"strokeDash":[3,2],"fillOpacity":0},"encoding":{"x2":{"field":"x2"},"y2":{"field":"y2"}}},
{"data":{"name":"bars"},"mark":{"type":"rect","color":"black"},"encoding":{"x2":{"field":"x2"},"y2":{"field":"y2"}}},
{"data":{"values":[{"x":0.109,"y":0.071}]},"mark":{"type":"point","shape":"M-1,0A1,0.75 0 1,1 1,0A1,0.75 0 1,1 -1,0Z","size":1253,"stroke":"black","strokeWidth":1.4,"opacity":1,"filled":false}},
{"data":{"values":[{"x":-1.325,"y":0.557,"t":"Cylinders actuated"},{"x":-1.325,"y":0.385,"t":"in z-direction"},{"x":0.3,"y":0.2,"t":"Downward flux"}]},"mark":{"type":"text","align":"left","baseline":"middle","font":"Lato","fontSize":17,"color":"#111"},"encoding":{"text":{"field":"t"}}},
{"data":{"values":[{"x":-0.55,"y":0.46,"x2":-0.42,"y2":0.304}]},"mark":{"type":"rule","color":"#111","strokeWidth":1.6},"encoding":{"x2":{"field":"x2"},"y2":{"field":"y2"}}},
{"data":{"values":[{"x":-0.55,"y":0.46}]},"mark":{"type":"point","shape":"triangle-up","angle":-39,"filled":true,"size":30,"color":"#111","opacity":1}},
{"data":{"values":[{"x":-0.42,"y":0.304}]},"mark":{"type":"point","shape":"triangle-up","angle":141,"filled":true,"size":30,"color":"#111","opacity":1}},
{"data":{"values":[{"x":0,"y":0}]},"mark":{"type":"point","opacity":0},"encoding":{"x":{"field":"x","type":"quantitative","axis":{"orient":"bottom","values":[-1,-0.5,0,0.5,1],"title":"x/H","labelExpr":"''+datum.value","labelPadding":15,"titlePadding":5}},"y":{"field":"y","type":"quantitative","axis":{"orient":"left","values":[0,0.5,1],"labels":false,"title":null}}}},
{"data":{"values":[{"x":0,"y":0}]},"mark":{"type":"point","opacity":0},"encoding":{"x":{"field":"x","type":"quantitative","axis":{"orient":"top","values":[-1,-0.5,0,0.5,1],"labels":false,"title":null}},"y":{"field":"y","type":"quantitative","axis":{"orient":"right","values":[0,0.5,1],"labels":false,"title":null}}}}
]},
{"title":{"text":"×10⁻⁵","font":"Liberation Sans","fontSize":19,"anchor":"start","dx":20,"offset":3},"width":19,"height":132,"data":{"name":"cbb"},"mark":{"type":"rect","height":4,"clip":true},"encoding":{"y":{"field":"c","type":"quantitative","scale":{"domain":[-5,5],"nice":false,"zero":false},"axis":{"orient":"right","values":[-5,0,5],"labelExpr":"''+datum.value","labelFont":"Liberation Sans","labelFontSize":18,"tickSize":-3,"labelPadding":6,"title":"c̅′v̅′/CₛUᵣₑf","titleFontStyle":"italic","titleAngle":270,"titleBaseline":"top","titleFontSize":27,"titlePadding":8}},"color":{"field":"c","type":"quantitative","legend":null,"scale":{"domain":[-5,0,5],"interpolate":"rgb","range":["#0000ff","#ffffff","#ff0000"]}}}}
]}]}
]}
